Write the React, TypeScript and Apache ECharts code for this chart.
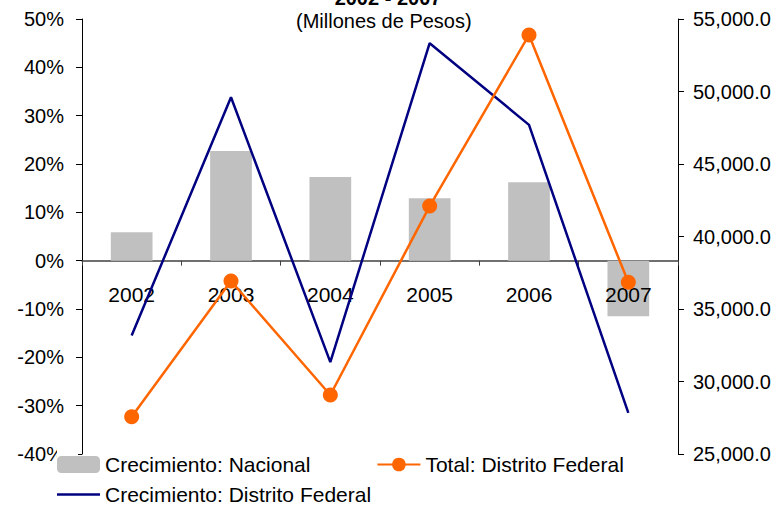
import React, { useEffect, useRef } from "react";
import * as echarts from "echarts";

const categories = ["2002", "2003", "2004", "2005", "2006", "2007"];
const crecimientoNacional = [5.9, 22.7, 17.3, 12.9, 16.2, -11.5];
const crecimientoDF = [-15.5, 33.8, -21.0, 45.0, 28.1, -31.5];
const totalDF = [27570, 36930, 29070, 42100, 53900, 36840];
const titleText = "2002 - 2007";
const subtitleText = "(Millones de Pesos)";

const FONT = "'Liberation Sans', Arial, sans-serif";

export default function App() {
  const ref = useRef<HTMLDivElement>(null);
  useEffect(() => {
    if (!ref.current) return;
    const chart = echarts.init(ref.current, null, { renderer: "svg" });
    chart.setOption({
      animation: false,
      backgroundColor: "#fff",
      textStyle: { fontFamily: FONT },
      title: [
        {
          text: titleText,
          left: "center",
          top: -12,
          padding: 0,
          textStyle: { fontFamily: FONT, fontSize: 20, fontWeight: "bold", color: "#000" },
        },
        {
          text: subtitleText,
          left: 296,
          top: 11,
          padding: 0,
          textStyle: { fontFamily: FONT, fontSize: 20, fontWeight: "normal", color: "#000" },
        },
      ],
      grid: { left: 82, right: 98, top: 19, bottom: 54, containLabel: false },
      graphic: [
        {
          type: "rect",
          z: 100,
          shape: { x: 57, y: 442, width: 21, height: 28 },
          style: { fill: "#fff" },
        },
      ],
      legend: [
        {
          data: ["Crecimiento: Nacional", "Total: Distrito Federal"],
          left: 57,
          top: 454,
          padding: 0,
          z: 110,
          itemWidth: 43,
          itemHeight: 17,
          itemGap: 66,
          textStyle: { fontFamily: FONT, fontSize: 21, color: "#000" },
        },
        {
          data: [{ name: "Crecimiento: Distrito Federal", icon: "rect" }],
          left: 57,
          top: 484,
          padding: 0,
          z: 110,
          itemWidth: 43,
          itemHeight: 2.5,
          textStyle: { fontFamily: FONT, fontSize: 21, color: "#000", lineHeight: 21 },
        },
      ],
      xAxis: [
        {
          type: "category",
          data: categories,
          axisLine: { onZero: true, lineStyle: { color: "#404040", width: 1.5 } },
          axisTick: { show: true, length: 5, lineStyle: { color: "#404040" } },
          axisLabel: { show: false },
          splitLine: { show: false },
        },
        {
          type: "category",
          data: categories,
          position: "bottom",
          offset: -193,
          z: 2,
          axisLine: { show: false, onZero: false },
          axisTick: { show: false },
          axisLabel: { margin: 23, fontSize: 21, color: "#000", fontFamily: FONT },
          splitLine: { show: false },
        },
      ],
      yAxis: [
        {
          type: "value",
          min: -40,
          max: 50,
          interval: 10,
          axisLine: { show: true, lineStyle: { color: "#000" } },
          axisTick: { show: true, length: 6, lineStyle: { color: "#000" } },
          axisLabel: { formatter: "{value}%", margin: 18, fontSize: 20, color: "#000", fontFamily: FONT },
          splitLine: { show: false },
        },
        {
          type: "value",
          min: 25000,
          max: 55000,
          interval: 5000,
          position: "right",
          axisLine: { show: true, lineStyle: { color: "#000" } },
          axisTick: { show: true, length: 6, lineStyle: { color: "#000" } },
          axisLabel: {
            formatter: (v: number) =>
              v.toLocaleString("en-US", { minimumFractionDigits: 1, maximumFractionDigits: 1 }),
            margin: 15,
            fontSize: 20,
            color: "#000",
            fontFamily: FONT,
          },
          splitLine: { show: false },
        },
      ],
      series: [
        {
          name: "Crecimiento: Nacional",
          type: "bar",
          yAxisIndex: 0,
          xAxisIndex: 0,
          z: 1,
          data: crecimientoNacional,
          barWidth: "42%",
          itemStyle: { color: "#C0C0C0" },
        },
        {
          name: "Crecimiento: Distrito Federal",
          type: "line",
          yAxisIndex: 0,
          xAxisIndex: 0,
          z: 3,
          data: crecimientoDF,
          symbol: "none",
          lineStyle: { color: "#000080", width: 2.5 },
          itemStyle: { color: "#000080" },
        },
        {
          name: "Total: Distrito Federal",
          type: "line",
          yAxisIndex: 1,
          xAxisIndex: 0,
          z: 4,
          data: totalDF,
          symbol: "circle",
          symbolSize: 15,
          lineStyle: { color: "#FF6600", width: 2.5 },
          itemStyle: { color: "#FF6600" },
        },
      ],
    });
    return () => chart.dispose();
  }, []);
  return <div ref={ref} style={{ width: 776, height: 508, position: "absolute", left: 0, top: 0 }} />;
}
